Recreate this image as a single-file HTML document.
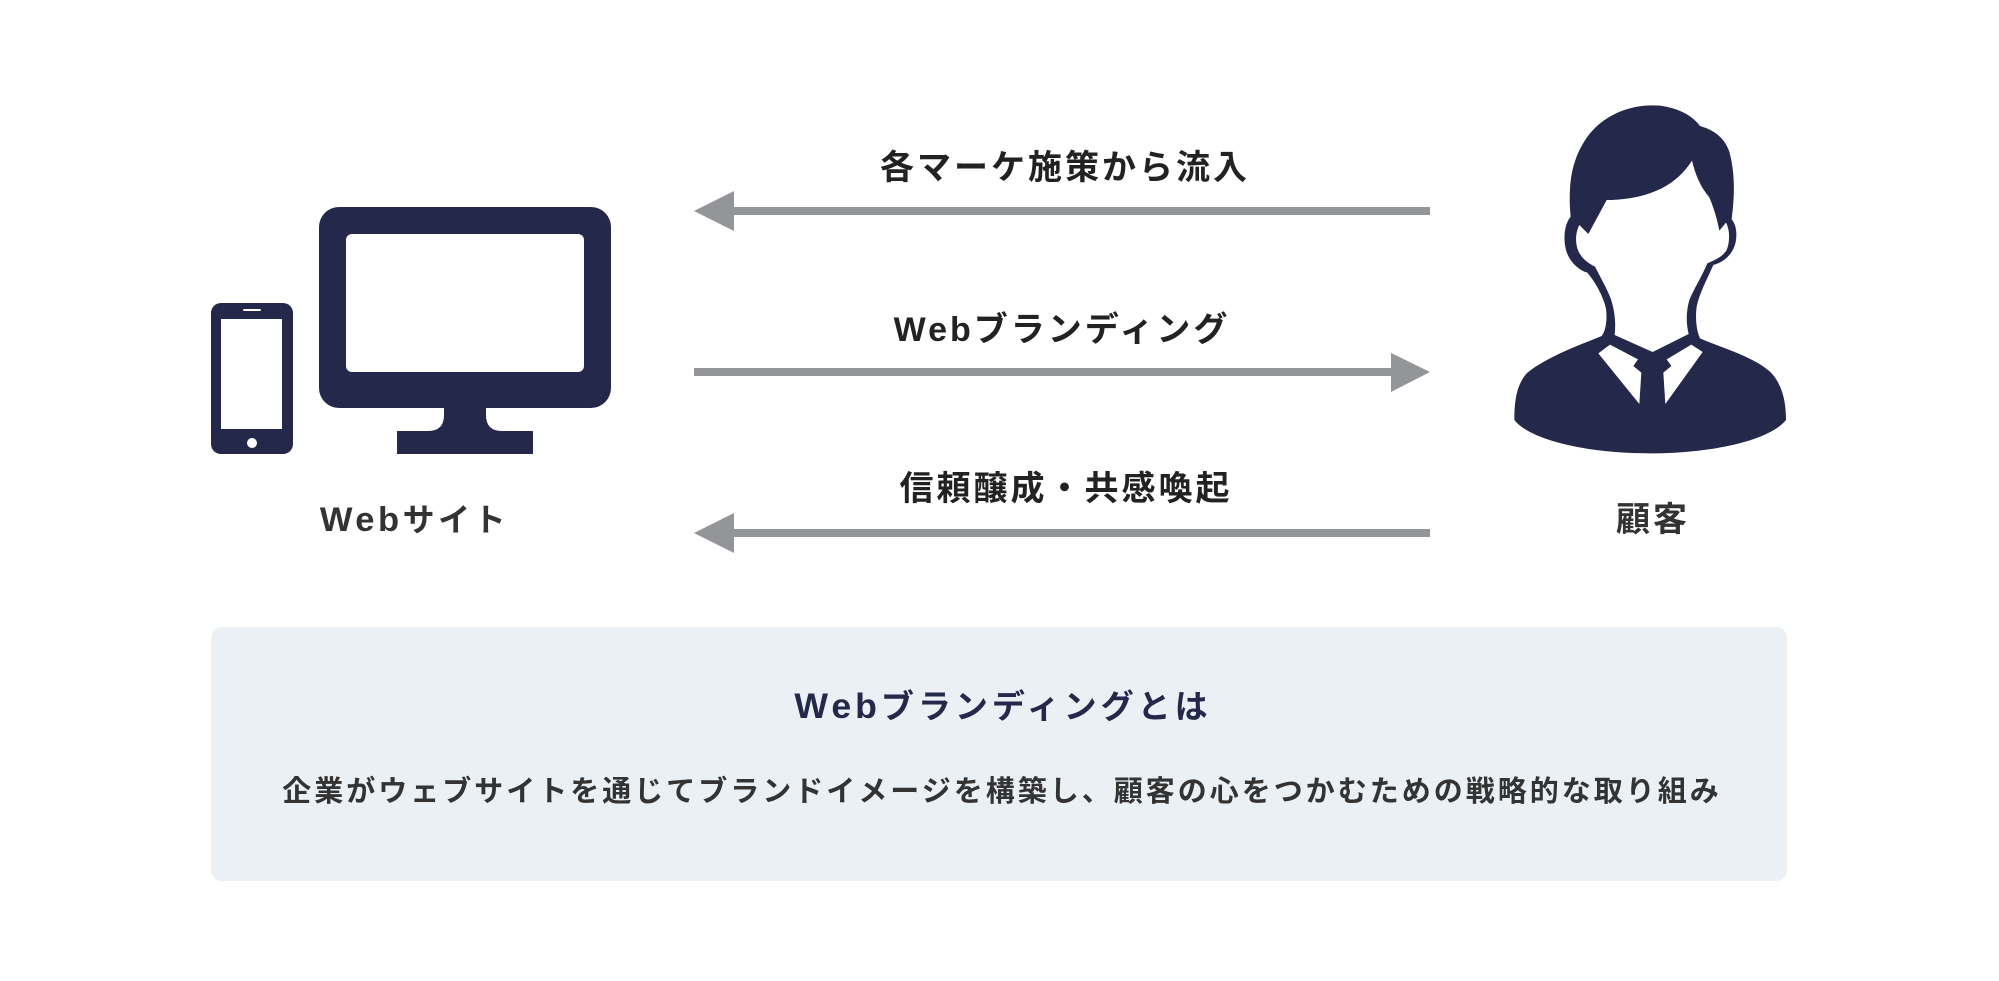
<!DOCTYPE html>
<html>
<head>
<meta charset="utf-8">
<style>
html,body{margin:0;padding:0;background:#fff;}
body{width:1999px;height:981px;position:relative;overflow:hidden;}
.t{position:absolute;white-space:nowrap;text-align:center;font-family:"Liberation Sans","Noto Sans CJK JP",sans-serif;font-weight:700;}
.lbl{font-size:34px;letter-spacing:3px;padding-left:3px;color:#222;height:50px;line-height:50px;width:700px;}
.box{position:absolute;left:211px;top:627px;width:1576px;height:254px;background:#ebf0f5;border-radius:11px;}
.w{font-size:1.08em;}
</style>
</head>
<body>
<svg width="1999" height="981" style="position:absolute;left:0;top:0">
  <!-- monitor -->
  <rect x="319" y="207" width="292" height="201" rx="20" fill="#24294b"/>
  <rect x="346" y="234" width="238" height="138" rx="6" fill="#fff"/>
  <path d="M444,406 L444,415 Q444,431 428,431 L397,431 L397,454 L533,454 L533,431 L502,431 Q486,431 486,415 L486,406 Z" fill="#24294b"/>
  <!-- phone -->
  <rect x="211" y="303" width="82" height="151" rx="10" fill="#24294b"/>
  <rect x="221" y="319" width="61" height="110" fill="#fff"/>
  <line x1="244" y1="310" x2="260" y2="310" stroke="#fff" stroke-width="2" stroke-linecap="round"/>
  <circle cx="252" cy="443" r="5" fill="#fff"/>

  <!-- arrows -->
  <g fill="#939598">
    <rect x="732" y="207" width="698" height="8"/>
    <polygon points="694,211 734,191 734,231"/>
    <rect x="694" y="368" width="698" height="8"/>
    <polygon points="1430,372 1391,353 1391,392"/>
    <rect x="732" y="529" width="698" height="8"/>
    <polygon points="694,533 734,513 734,553"/>
  </g>

  <!-- person -->
  <svg x="1480" y="90" width="340" height="460" viewBox="0 0 1020 1380">
    <path fill="#24294b" d="
      M272,380
      C255,400 248,440 258,480 C268,515 295,540 322,548
      C345,575 368,615 378,655 C382,690 378,720 365,738
      C300,765 200,800 140,850 C110,885 103,930 103,990
      C150,1050 320,1090 510,1090 C700,1090 870,1050 918,990
      C918,930 905,880 870,845 C820,800 730,775 660,745
      C648,720 646,680 650,650 C658,610 680,570 700,525
      C735,515 762,490 768,450 C772,420 765,400 755,388
      C762,330 768,260 748,185 C732,140 700,120 660,108
      C640,80 600,55 540,47 C460,40 380,70 330,130 C290,180 272,240 270,300 C268,330 270,360 272,380 Z"/>
    <path fill="#fff" d="
      M298,405 L325,432 L380,330
      C430,330 490,322 545,295 C585,275 615,245 636,212
      C645,250 660,290 688,322 C702,355 712,390 718,422
      L738,398
      C750,420 750,455 740,480 C728,500 705,510 682,520
      C665,560 640,600 628,630 C618,665 618,700 626,732
      L518,786 L404,735
      C408,700 404,660 392,625 C378,590 360,560 345,530
      C320,518 300,500 292,475 C285,450 288,425 298,405 Z"/>
    <polygon fill="#fff" points="355,790 390,764 474,808 460,828 484,848 478,942"/>
    <polygon fill="#fff" points="668,786 634,764 560,808 574,828 550,848 556,942"/>
  </svg>
</svg>

<div class="box"></div>

<!-- arrow labels -->
<div class="t lbl" style="left:712px;top:143px;">各マーケ施策から流入</div>
<div class="t lbl" style="left:709px;top:305px;">Webブランディング</div>
<div class="t lbl" style="left:713px;top:464px;">信頼醸成・共感喚起</div>

<!-- node labels -->
<div class="t" style="left:211px;width:400px;top:495px;height:50px;line-height:50px;font-size:32px;letter-spacing:3.5px;padding-left:3.5px;color:#333;"><span class="w">Web</span>サイト</div>
<div class="t" style="left:1450px;width:400px;top:495px;height:50px;line-height:50px;font-size:34px;letter-spacing:3px;padding-left:3px;color:#333;">顧客</div>

<!-- box texts -->
<div class="t" style="left:499px;width:1000px;top:681px;height:50px;line-height:50px;font-size:33px;letter-spacing:4px;padding-left:4px;color:#24294b;"><span class="w">Web</span>ブランディングとは</div>
<div class="t" style="left:199px;width:1600px;top:767px;height:50px;line-height:50px;font-size:29px;letter-spacing:3px;padding-left:3px;color:#333;">企業がウェブサイトを通じてブランドイメージを構築し、顧客の心をつかむための戦略的な取り組み</div>
</body>
</html>
